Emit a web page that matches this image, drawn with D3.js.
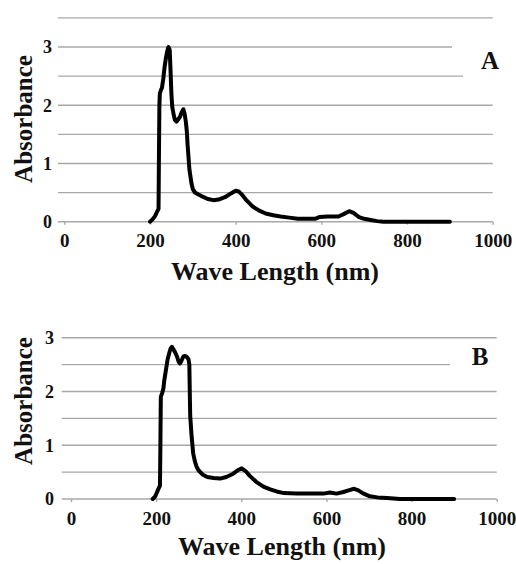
<!DOCTYPE html>
<html>
<head>
<meta charset="utf-8">
<script src="https://cdn.jsdelivr.net/npm/d3@7"></script>
<style>
  body { margin: 0; background: #fff; }
  text { font-family: "Liberation Serif", "Times New Roman", serif; font-weight: bold; fill: #111; }
</style>
</head>
<body>
<svg width="516" height="564"></svg>
<script>
var xTicks = [0, 200, 400, 600, 800, 1000];
var yTicks = [0, 1, 2, 3];

// spectrum A
var wavelengthA = [200,206,212,217,220,221,222,223,226,228,231,234,237,240,243,246,248,250,252,255,258,262,266,270,274,278,281,284,286,288,290,292,294,297,300,305,312,320,335,348,360,375,390,400,407,414,425,440,455,470,488,505,525,545,560,585,595,615,640,652,665,675,688,700,715,730,745,800,900];
var absorbanceA = [0,0.04,0.1,0.18,0.22,1.2,2.0,2.2,2.27,2.3,2.45,2.65,2.8,2.92,3.0,2.95,2.6,2.2,1.97,1.85,1.75,1.72,1.76,1.8,1.88,1.93,1.85,1.7,1.55,1.3,1.1,0.9,0.8,0.65,0.56,0.5,0.47,0.44,0.39,0.37,0.38,0.42,0.49,0.53,0.52,0.47,0.37,0.26,0.19,0.14,0.11,0.09,0.07,0.05,0.05,0.05,0.08,0.09,0.09,0.13,0.18,0.15,0.08,0.05,0.03,0.01,0,0,0];

// spectrum B
var wavelengthB = [192,198,205,209,210,211,214,217,219,221,224,227,231,234,237,241,245,249,253,256,260,264,268,272,276,278,279,280,283,287,291,295,300,310,320,335,350,365,381,393,401,410,420,435,452,468,483,500,530,560,593,608,624,640,652,665,675,685,702,720,742,773,900];
var absorbanceB = [0,0.05,0.18,0.25,1.0,1.9,1.97,2.05,2.2,2.3,2.45,2.6,2.72,2.8,2.83,2.78,2.72,2.65,2.55,2.52,2.58,2.65,2.66,2.64,2.6,2.5,2.0,1.55,1.2,0.85,0.7,0.6,0.53,0.45,0.41,0.39,0.38,0.41,0.47,0.54,0.57,0.52,0.43,0.32,0.23,0.18,0.14,0.11,0.1,0.1,0.1,0.12,0.1,0.13,0.16,0.19,0.16,0.11,0.05,0.03,0.02,0,0];

var panels = [
  { label: "A", wl: wavelengthA, ab: absorbanceA,
    xr: [64.3, 492.7], y0: 221.7, y3: 47, gridMax: 3.5, gridLeft: 58,
    tickLabelX: 52, titleX: 275, titleY: 280, yTitleY: 119,
    labelX: 490, labelY: 69,
    masks: [[452, 40, 50, 14], [463, 70, 40, 14]] },
  { label: "B", wl: wavelengthB, ab: absorbanceB,
    xr: [71, 496.7], y0: 499, y3: 337.7, gridMax: 3, gridLeft: 61.7,
    tickLabelX: 54, titleX: 282, titleY: 555, yTitleY: 401,
    labelX: 480, labelY: 365,
    masks: [[450, 356, 50, 14]] }
];

var svg = d3.select("svg");

panels.forEach(function(p) {
  var x = d3.scaleLinear().domain([0, 1000]).range(p.xr);
  var y = d3.scaleLinear().domain([0, 3]).range([p.y0, p.y3]);
  var g = svg.append("g");

  // gridlines
  g.selectAll(".grid").data(d3.range(0, p.gridMax + 0.01, 0.5))
    .enter().append("line")
      .attr("x1", p.gridLeft)
      .attr("x2", x(1000))
      .attr("y1", function(d) { return y(d); })
      .attr("y2", function(d) { return y(d); })
      .attr("stroke", "#a8a8a8")
      .attr("stroke-width", 1.4);

  // x axis ticks
  var ax = g.append("g")
      .attr("transform", "translate(0," + y(0) + ")")
      .call(d3.axisBottom(x).tickValues(xTicks).tickFormat(d3.format("d"))
        .tickSize(3).tickSizeOuter(0));
  ax.select(".domain").remove();
  ax.selectAll(".tick line").attr("stroke", "#a8a8a8").attr("stroke-width", 1.4);
  ax.selectAll(".tick text")
      .attr("y", 25.5)
      .attr("dy", null)
      .style("font-size", "19px")
      .attr("fill", "#111");

  // y tick labels
  g.selectAll(".ylab").data(yTicks)
    .enter().append("text")
      .attr("x", p.tickLabelX)
      .attr("y", function(d) { return y(d); })
      .attr("dy", "0.35em")
      .attr("text-anchor", "end")
      .style("font-size", "18px")
      .text(function(d) { return d; });

  // white legend boxes
  g.selectAll(".mask").data(p.masks)
    .enter().append("rect")
      .attr("x", function(d) { return d[0]; })
      .attr("y", function(d) { return d[1]; })
      .attr("width", function(d) { return d[2]; })
      .attr("height", function(d) { return d[3]; })
      .attr("fill", "#fff");

  var line = d3.line()
      .x(function(d, i) { return x(p.wl[i]); })
      .y(function(d) { return y(d); });

  g.append("path")
      .datum(p.ab)
      .attr("d", line)
      .attr("fill", "none")
      .attr("stroke", "#000")
      .attr("stroke-width", 4)
      .attr("stroke-linejoin", "round")
      .attr("stroke-linecap", "round");

  g.append("text")
      .attr("x", p.titleX)
      .attr("y", p.titleY)
      .attr("text-anchor", "middle")
      .style("font-size", "26px")
      .text("Wave Length (nm)");

  g.append("text")
      .attr("transform", "translate(32," + p.yTitleY + ") rotate(-90)")
      .attr("text-anchor", "middle")
      .style("font-size", "25px")
      .text("Absorbance");

  g.append("text")
      .attr("x", p.labelX)
      .attr("y", p.labelY)
      .attr("text-anchor", "middle")
      .style("font-size", "25px")
      .text(p.label);
});
</script>
</body>
</html>
